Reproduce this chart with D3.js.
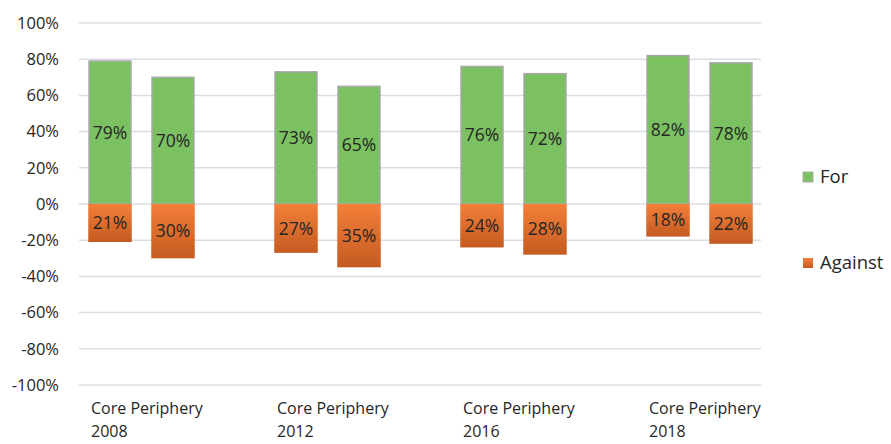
<!DOCTYPE html>
<html>
<head>
<meta charset="utf-8">
<style>
  html, body { margin: 0; padding: 0; background: #fff; }
  svg { display: block; }
  text { font-family: "Open Sans", "Noto Sans", sans-serif; fill: #262626; }
</style>
</head>
<body>
<svg width="891" height="444"></svg>
<script src="https://cdn.jsdelivr.net/npm/d3@7"></script>
<script>

var years = ["2008", "2012", "2016", "2018"];
var regions = ["Core", "Periphery"];
var forValues = [[0.79, 0.70], [0.73, 0.65], [0.76, 0.72], [0.82, 0.78]];
var againstValues = [[0.21, 0.30], [0.27, 0.35], [0.24, 0.28], [0.18, 0.22]];
var yTicks = [1, 0.8, 0.6, 0.4, 0.2, 0, -0.2, -0.4, -0.6, -0.8, -1];

var svg = d3.select("svg");

var x0 = d3.scaleBand().domain(years).range([48, 792]);
var x1 = d3.scaleBand().domain(regions).range([41, 146]).paddingInner(1 / 3).paddingOuter(0);
var y = d3.scaleLinear().domain([-1, 1]).range([385, 23]);

// plain hyphen for negatives, like the original
var pct = function(d) { return Math.round(d * 100) + "%"; };

var defs = svg.append("defs");
var grad = defs.append("linearGradient")
    .attr("id", "orangeGrad")
    .attr("x1", 0).attr("y1", 0).attr("x2", 0).attr("y2", 1);
grad.append("stop").attr("offset", "0%").attr("stop-color", "#f37f39");
grad.append("stop").attr("offset", "100%").attr("stop-color", "#c45b21");

// gridlines
svg.append("g")
  .selectAll("line")
  .data(yTicks)
  .enter().append("line")
    .attr("x1", 79).attr("x2", 761)
    .attr("y1", function(d) { return y(d); })
    .attr("y2", function(d) { return y(d); })
    .attr("stroke", "#d9dde3")
    .attr("stroke-width", 1.5);

// y labels
svg.append("g")
  .selectAll("text")
  .data(yTicks)
  .enter().append("text")
    .attr("x", 59)
    .attr("y", function(d) { return y(d); })
    .attr("dy", "0.35em")
    .attr("text-anchor", "end")
    .style("font-size", "16.5px")
    .text(pct);

var groups = svg.append("g")
  .selectAll("g")
  .data(years)
  .enter().append("g")
    .attr("transform", function(d) { return "translate(" + x0(d) + ",0)"; });

groups.each(function(year, i) {
  var g = d3.select(this);
  var cells = regions.map(function(r, j) {
    return { region: r, f: forValues[i][j], a: againstValues[i][j] };
  });

  g.selectAll("rect.for")
    .data(cells)
    .enter().append("rect")
      .attr("class", "for")
      .attr("x", function(d) { return x1(d.region); })
      .attr("width", x1.bandwidth())
      .attr("y", function(d) { return y(d.f); })
      .attr("height", function(d) { return y(0) - y(d.f); })
      .attr("fill", "#7bc162")
      .attr("stroke", "#a9a9a9")
      .attr("stroke-width", 1.5);

  g.selectAll("rect.against")
    .data(cells)
    .enter().append("rect")
      .attr("class", "against")
      .attr("x", function(d) { return x1(d.region) - 0.75; })
      .attr("width", x1.bandwidth() + 1.5)
      .attr("y", y(0))
      .attr("height", function(d) { return y(-d.a) - y(0); })
      .attr("fill", "url(#orangeGrad)");

  g.selectAll("text.forLabel")
    .data(cells)
    .enter().append("text")
      .attr("x", function(d) { return x1(d.region) + x1.bandwidth() / 2; })
      .attr("y", function(d) { return (y(d.f) + y(0)) / 2; })
      .attr("dy", "0.35em")
      .attr("text-anchor", "middle")
      .style("font-size", "17.5px")
      .text(function(d) { return pct(d.f); });

  g.selectAll("text.againstLabel")
    .data(cells)
    .enter().append("text")
      .attr("x", function(d) { return x1(d.region) + x1.bandwidth() / 2; })
      .attr("y", function(d) { return (y(-d.a) + y(0)) / 2; })
      .attr("dy", "0.35em")
      .attr("text-anchor", "middle")
      .style("font-size", "17.5px")
      .text(function(d) { return pct(d.a); });

  // category label (two lines)
  var lx = x1("Core") + 2;
  g.append("text")
      .attr("x", lx)
      .attr("y", 414)
      .style("font-size", "16px")
      .text("Core Periphery");
  g.append("text")
      .attr("x", lx)
      .attr("y", 437)
      .style("font-size", "16px")
      .text(year);
});

// legend
var legend = [
  { name: "For", fill: "#7bc162", stroke: "#a9a9a9", y: 177 },
  { name: "Against", fill: "url(#orangeGrad)", stroke: "none", y: 263 }
];
var lg = svg.append("g")
  .selectAll("g")
  .data(legend)
  .enter().append("g");
lg.append("rect")
    .attr("x", 803).attr("width", 10)
    .attr("y", function(d) { return d.y - 5; })
    .attr("height", 10)
    .attr("fill", function(d) { return d.fill; })
    .attr("stroke", function(d) { return d.stroke; })
    .attr("stroke-width", 1);
lg.append("text")
    .attr("x", 820)
    .attr("y", function(d) { return d.y; })
    .attr("dy", "0.35em")
    .style("font-size", "18.5px")
    .text(function(d) { return d.name; });

</script>
</body>
</html>
